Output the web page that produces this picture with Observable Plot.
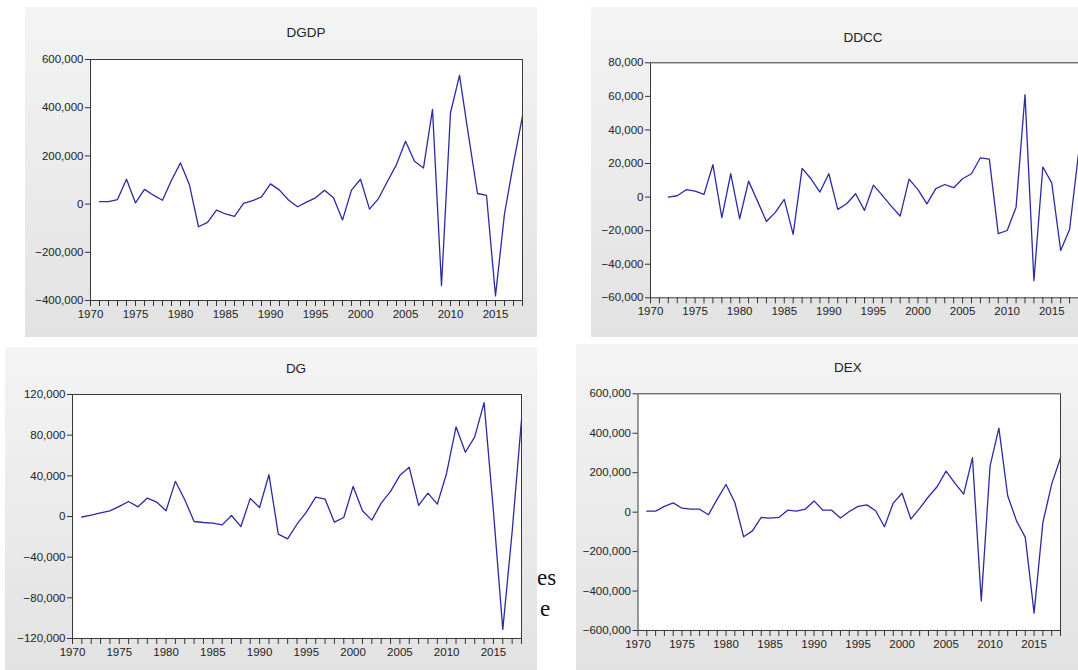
<!DOCTYPE html>
<html>
<head>
<meta charset="utf-8">
<script src="https://cdn.jsdelivr.net/npm/d3@7"></script>
<script src="https://cdn.jsdelivr.net/npm/@observablehq/plot@0.6"></script>
<style>
  html, body { margin: 0; padding: 0; background: #ffffff; }
  body { width: 1078px; height: 670px; overflow: hidden; position: relative; font-family: "Liberation Sans", Arial, sans-serif; }
  .panel { position: absolute; background: linear-gradient(#f4f4f4, #e2e2e2); overflow: hidden; }
  .panel svg { position: absolute; left: 0; top: 0; overflow: visible; max-width: none !important; }
  .title { position: absolute; transform: translate(-50%, -50%); font-size: 13.5px; color: #222; white-space: nowrap; }
  .doc { position: absolute; font-family: "Liberation Serif", "Times New Roman", serif; font-size: 23px; color: #111; }
</style>
</head>
<body>
<div class="doc" style="left:537px; top:565px;">es</div>
<div class="doc" style="left:540px; top:596px;">e</div>
<div id="p1" class="panel" style="left:25px; top:7px; width:512px; height:330px;"></div>
<div id="p2" class="panel" style="left:591px; top:7px; width:487px; height:330px;"></div>
<div id="p3" class="panel" style="left:5px; top:347px; width:532px; height:323px;"></div>
<div id="p4" class="panel" style="left:576px; top:344px; width:502px; height:326px;"></div>
<script>
// ---- data ----
const yearsDGDP = d3.range(1971, 2019);
const valuesDGDP = [
  10000, 10000, 19000, 103000, 5000, 61000, 37000, 16000, 99000, 171000,
  79000, -94000, -76000, -25000, -41000, -51000, 3000, 14000, 30000, 84000,
  58000, 17000, -11000, 8000, 26000, 57000, 26000, -66000, 58000, 103000,
  -21000, 23000, 95000, 164000, 261000, 178000, 150000, 393000, -338000, 379000,
  534000, 285000, 44000, 36000, -381000, -40000, 170000, 365000
];
const yearsDDCC = d3.range(1972, 2019);
const valuesDDCC = [
  0, 800, 4400, 3600, 1600, 19300, -12300, 13900, -12900,
  9500, -2400, -14500, -9100, -1400, -22200, 17100, 10900, 3000, 13900,
  -7300, -4000, 2000, -7900, 7100, 1000, -5400, -11300, 10700, 4400,
  -4000, 5000, 7500, 5600, 10900, 13900, 23400, 22600, -21800, -19900,
  -6000, 61000, -49800, 17900, 8500, -31800, -19300, 25800
];
const yearsDG = d3.range(1971, 2019);
const valuesDG = [
  -500, 1300, 3600, 5600, 9900, 14800, 9500, 18100, 14200, 5600,
  34600, 16500, -4900, -5900, -6600, -8200, 1000, -9900, 17800, 8900,
  41100, -17300, -22000, -7600, 4300, 19100, 17100, -5600, -1000, 29600,
  5600, -3600, 13200, 24700, 40500, 48400, 10900, 23000, 12200, 42800,
  88200, 63200, 78300, 112000, 5000, -111000, -15000, 95000
];
const yearsDEX = d3.range(1971, 2019);
const valuesDEX = [
  5000, 5000, 29000, 47000, 20000, 15000, 15000, -13500, 66000, 140000,
  49000, -125000, -95000, -27000, -30000, -27000, 10000, 5000, 15000, 57000,
  10000, 10000, -30000, 3000, 29000, 37000, 7000, -74000, 46000, 96000,
  -35000, 19000, 78000, 130000, 208000, 147000, 91000, 276000, -450000, 235000,
  426000, 83000, -44000, -128000, -512000, -52000, 142000, 276000
];
const ticksDGDP = [-400000, -200000, 0, 200000, 400000, 600000];
const ticksDDCC = [-60000, -40000, -20000, 0, 20000, 40000, 60000, 80000];
const ticksDG = [-120000, -80000, -40000, 0, 40000, 80000, 120000];
const ticksDEX = [-600000, -400000, -200000, 0, 200000, 400000, 600000];
const xTickYears = d3.range(1970, 2019);
const xLabelYears = [1970, 1975, 1980, 1985, 1990, 1995, 2000, 2005, 2010, 2015];
const titles = ["DGDP", "DDCC", "DG", "DEX"];

function panel(el, years, values, yTicks, opt, title, tx, ty) {
  const data = years.map((y, i) => ({year: y, value: values[i]}));
  const chart = Plot.plot({
    width: opt.width, height: opt.height,
    marginLeft: opt.ml, marginRight: opt.mr, marginTop: opt.mt, marginBottom: opt.mb,
    x: {domain: [1970, 2018], axis: null},
    y: {domain: [yTicks[0], yTicks[yTicks.length - 1]], axis: null},
    style: {background: "transparent", fontFamily: "'Liberation Sans', Arial, sans-serif", fontSize: "11.5px", color: "#222", overflow: "visible"},
    marks: [
      Plot.frame({fill: "white", stroke: "none"}),
      Plot.axisY({ticks: yTicks, label: null, tickSize: 5, tickPadding: 2, tickFormat: d3.format(","), stroke: "#333", fill: "#222"}),
      Plot.axisX({ticks: xTickYears, label: null, tickSize: 6, tickPadding: 3, stroke: "#333", fill: "#222",
                  tickFormat: d => xLabelYears.includes(d) ? String(d) : ""}),
      Plot.line(data, {x: "year", y: "value", stroke: "#2b2ba3", strokeWidth: 1.3}),
      Plot.frame({stroke: "#3a3a3a", strokeWidth: 1})
    ]
  });
  document.getElementById(el).appendChild(chart);
  const t = document.createElement("div");
  t.className = "title";
  t.textContent = title;
  t.style.left = tx + "px";
  t.style.top = ty + "px";
  document.body.appendChild(t);
}

panel("p1", yearsDGDP, valuesDGDP, ticksDGDP, {width: 512, height: 330, ml: 65, mr: 15, mt: 52, mb: 37}, titles[0], 306, 32);
panel("p2", yearsDDCC, valuesDDCC, ticksDDCC, {width: 502, height: 330, ml: 59, mr: 15, mt: 55.3, mb: 39.7}, titles[1], 863, 37);
panel("p3", yearsDG, valuesDG, ticksDG, {width: 532, height: 323, ml: 67, mr: 16, mt: 47, mb: 32}, titles[2], 296, 368);
panel("p4", yearsDEX, valuesDEX, ticksDEX, {width: 502, height: 326, ml: 61.5, mr: 18, mt: 49.3, mb: 40}, titles[3], 848, 367);
</script>
</body>
</html>
